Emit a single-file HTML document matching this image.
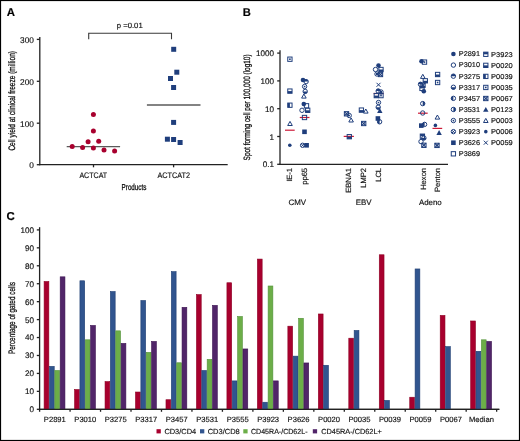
<!DOCTYPE html>
<html><head><meta charset="utf-8"><style>
html,body{margin:0;padding:0;background:#fff;}
body{width:520px;height:441px;overflow:hidden;}
svg{display:block;font-family:"Liberation Sans", sans-serif;will-change:transform;text-rendering:geometricPrecision;}
</style></head><body>
<svg width="520" height="441" viewBox="0 0 520 441">
<rect x="0" y="0" width="520" height="441" fill="#fff"/>
<text x="6.7" y="15.6" font-size="11.4" text-anchor="start" fill="#000" stroke="#000" stroke-width="0.15" font-weight="bold" >A</text>
<text x="242.7" y="15.8" font-size="11.2" text-anchor="start" fill="#000" stroke="#000" stroke-width="0.15" font-weight="bold" >B</text>
<text x="6.4" y="220.4" font-size="11.4" text-anchor="start" fill="#000" stroke="#000" stroke-width="0.15" font-weight="bold" >C</text>
<line x1="39.8" y1="36.9" x2="39.8" y2="165.2" stroke="#222" stroke-width="1.3"/>
<line x1="39.3" y1="164.7" x2="227.7" y2="164.7" stroke="#222" stroke-width="1.3"/>
<line x1="36.8" y1="39.4" x2="39.8" y2="39.4" stroke="#222" stroke-width="1.3"/>
<text x="33.9" y="42.7" font-size="8.3" text-anchor="end" fill="#111" stroke="#111" stroke-width="0.15" >300</text>
<line x1="36.8" y1="81.3" x2="39.8" y2="81.3" stroke="#222" stroke-width="1.3"/>
<text x="33.9" y="84.6" font-size="8.3" text-anchor="end" fill="#111" stroke="#111" stroke-width="0.15" >200</text>
<line x1="36.8" y1="123.2" x2="39.8" y2="123.2" stroke="#222" stroke-width="1.3"/>
<text x="33.9" y="126.5" font-size="8.3" text-anchor="end" fill="#111" stroke="#111" stroke-width="0.15" >100</text>
<line x1="36.8" y1="164.7" x2="39.8" y2="164.7" stroke="#222" stroke-width="1.3"/>
<text x="33.9" y="168.0" font-size="8.3" text-anchor="end" fill="#111" stroke="#111" stroke-width="0.15" >0</text>
<line x1="93.5" y1="164.7" x2="93.5" y2="167.3" stroke="#222" stroke-width="1.3"/>
<line x1="173.6" y1="164.7" x2="173.6" y2="167.3" stroke="#222" stroke-width="1.3"/>
<text x="93.3" y="177.7" font-size="8.0" text-anchor="middle" fill="#111" stroke="#111" stroke-width="0.15" textLength="27.8" lengthAdjust="spacingAndGlyphs" >ACTCAT</text>
<text x="173.7" y="177.7" font-size="8.0" text-anchor="middle" fill="#111" stroke="#111" stroke-width="0.15" textLength="32.6" lengthAdjust="spacingAndGlyphs" >ACTCAT2</text>
<text x="121.6" y="189.9" font-size="8.6" text-anchor="start" fill="#111" stroke="#111" stroke-width="0.3" textLength="24.8" lengthAdjust="spacingAndGlyphs" >Products</text>
<text x="14.9" y="150.6" font-size="9.4" text-anchor="start" fill="#111" stroke="#111" stroke-width="0.3" textLength="99.6" lengthAdjust="spacingAndGlyphs" transform="rotate(-90 14.9 150.6)" >Cell yield at clinical freeze (million)</text>
<path d="M88.7,39.2 V33.2 H171.5 V39.2" fill="none" stroke="#3a3a3a" stroke-width="1.1"/>
<text x="116.7" y="28.3" font-size="7.6" text-anchor="start" fill="#111" stroke="#111" stroke-width="0.15" textLength="26.0" lengthAdjust="spacingAndGlyphs" >p =0.01</text>
<line x1="66.7" y1="146.6" x2="120.1" y2="146.6" stroke="#5a5a5a" stroke-width="1.3"/>
<circle cx="93.4" cy="114.6" r="2.5" fill="#a8002e"/>
<circle cx="93.4" cy="131.0" r="2.5" fill="#a8002e"/>
<circle cx="88.1" cy="141.7" r="2.5" fill="#a8002e"/>
<circle cx="98.7" cy="141.3" r="2.5" fill="#a8002e"/>
<circle cx="72.2" cy="146.6" r="2.5" fill="#a8002e"/>
<circle cx="82.6" cy="147.6" r="2.5" fill="#a8002e"/>
<circle cx="93.4" cy="148.0" r="2.5" fill="#a8002e"/>
<circle cx="104.0" cy="150.0" r="2.5" fill="#a8002e"/>
<circle cx="114.6" cy="151.0" r="2.5" fill="#a8002e"/>
<line x1="146.9" y1="105.0" x2="200.5" y2="105.0" stroke="#5a5a5a" stroke-width="1.3"/>
<rect x="171.20" y="46.80" width="5.0" height="5.0" fill="#1f3e7c"/>
<rect x="174.30" y="69.70" width="5.0" height="5.0" fill="#1f3e7c"/>
<rect x="168.00" y="76.00" width="5.0" height="5.0" fill="#1f3e7c"/>
<rect x="171.10" y="85.00" width="5.0" height="5.0" fill="#1f3e7c"/>
<rect x="171.10" y="119.90" width="5.0" height="5.0" fill="#1f3e7c"/>
<rect x="164.90" y="136.70" width="5.0" height="5.0" fill="#1f3e7c"/>
<rect x="171.10" y="137.00" width="5.0" height="5.0" fill="#1f3e7c"/>
<rect x="177.60" y="140.00" width="5.0" height="5.0" fill="#1f3e7c"/>
<line x1="280.0" y1="50.2" x2="280.0" y2="165.0" stroke="#222" stroke-width="1.3"/>
<line x1="279.5" y1="164.3" x2="448.0" y2="164.3" stroke="#222" stroke-width="1.3"/>
<line x1="277.2" y1="53.1" x2="280.0" y2="53.1" stroke="#222" stroke-width="1.3"/>
<text x="274.0" y="56.1" font-size="8.1" text-anchor="end" fill="#111" stroke="#111" stroke-width="0.15" >1000</text>
<line x1="277.2" y1="80.9" x2="280.0" y2="80.9" stroke="#222" stroke-width="1.3"/>
<text x="274.0" y="83.9" font-size="8.1" text-anchor="end" fill="#111" stroke="#111" stroke-width="0.15" >100</text>
<line x1="277.2" y1="108.7" x2="280.0" y2="108.7" stroke="#222" stroke-width="1.3"/>
<text x="274.0" y="111.7" font-size="8.1" text-anchor="end" fill="#111" stroke="#111" stroke-width="0.15" >10</text>
<line x1="277.2" y1="136.5" x2="280.0" y2="136.5" stroke="#222" stroke-width="1.3"/>
<text x="274.0" y="139.5" font-size="8.1" text-anchor="end" fill="#111" stroke="#111" stroke-width="0.15" >1</text>
<line x1="277.2" y1="164.3" x2="280.0" y2="164.3" stroke="#222" stroke-width="1.3"/>
<text x="274.0" y="167.3" font-size="8.1" text-anchor="end" fill="#111" stroke="#111" stroke-width="0.15" >0.1</text>
<text x="250.2" y="160.4" font-size="9.2" text-anchor="start" fill="#111" stroke="#111" stroke-width="0.3" textLength="106.0" lengthAdjust="spacingAndGlyphs" transform="rotate(-90 250.2 160.4)" >Spot forming cell per 100,000 (log10)</text>
<text x="292.2" y="167.9" font-size="7.6" text-anchor="end" fill="#111" stroke="#111" stroke-width="0.15" transform="rotate(-90 292.2 167.9)" >IE-1</text>
<text x="307.1" y="167.9" font-size="7.6" text-anchor="end" fill="#111" stroke="#111" stroke-width="0.15" transform="rotate(-90 307.1 167.9)" >pp65</text>
<text x="351.0" y="167.9" font-size="7.6" text-anchor="end" fill="#111" stroke="#111" stroke-width="0.15" transform="rotate(-90 351.0 167.9)" >EBNA1</text>
<text x="366.0" y="167.9" font-size="7.6" text-anchor="end" fill="#111" stroke="#111" stroke-width="0.15" transform="rotate(-90 366.0 167.9)" >LMP2</text>
<text x="381.0" y="167.9" font-size="7.6" text-anchor="end" fill="#111" stroke="#111" stroke-width="0.15" transform="rotate(-90 381.0 167.9)" >LCL</text>
<text x="425.6" y="167.9" font-size="7.6" text-anchor="end" fill="#111" stroke="#111" stroke-width="0.15" transform="rotate(-90 425.6 167.9)" >Hexon</text>
<text x="440.3" y="167.9" font-size="7.6" text-anchor="end" fill="#111" stroke="#111" stroke-width="0.15" transform="rotate(-90 440.3 167.9)" >Penton</text>
<text x="297.35" y="204.7" font-size="7.9" text-anchor="middle" fill="#111" stroke="#111" stroke-width="0.15" >CMV</text>
<text x="363.6" y="204.7" font-size="7.9" text-anchor="middle" fill="#111" stroke="#111" stroke-width="0.15" >EBV</text>
<text x="430.3" y="204.7" font-size="7.9" text-anchor="middle" fill="#111" stroke="#111" stroke-width="0.15" >Adeno</text>
<line x1="285.0" y1="130.2" x2="294.7" y2="130.2" stroke="#cc1a38" stroke-width="1.2"/>
<line x1="299.8" y1="117.5" x2="309.5" y2="117.5" stroke="#cc1a38" stroke-width="1.2"/>
<line x1="343.7" y1="136.4" x2="353.9" y2="136.4" stroke="#cc1a38" stroke-width="1.2"/>
<line x1="373.6" y1="93.5" x2="383.6" y2="93.5" stroke="#cc1a38" stroke-width="1.2"/>
<line x1="418.0" y1="113.2" x2="427.7" y2="113.2" stroke="#cc1a38" stroke-width="1.2"/>
<line x1="432.5" y1="128.4" x2="442.2" y2="128.4" stroke="#cc1a38" stroke-width="1.2"/>
<rect x="287.75" y="57.05" width="4.30" height="4.30" fill="none" stroke="#1f3e7c" stroke-width="1.0"/><rect x="289.10" y="58.40" width="1.6" height="1.6" fill="#1f3e7c"/>
<rect x="287.75" y="88.95" width="4.30" height="4.30" fill="none" stroke="#1f3e7c" stroke-width="1.0"/><rect x="287.75" y="91.10" width="4.30" height="2.15" fill="#1f3e7c"/>
<rect x="287.75" y="103.05" width="4.30" height="4.30" fill="none" stroke="#1f3e7c" stroke-width="1.0"/><rect x="287.75" y="103.05" width="2.15" height="4.30" fill="#1f3e7c"/>
<path d="M290.0,121.39999999999999 L292.3,125.5 L287.7,125.5 Z" fill="none" stroke="#1f3e7c" stroke-width="1.0" stroke-linejoin="miter"/>
<circle cx="289.8" cy="145.2" r="1.8" fill="#1f3e7c"/>
<circle cx="303.0" cy="80.0" r="2.3" fill="#1f3e7c"/>
<circle cx="306.1" cy="81.6" r="2.2" fill="none" stroke="#1f3e7c" stroke-width="1.0"/><path d="M303.90000000000003,81.6 A2.2,2.2 0 0 1 308.3,81.6 Z" fill="#1f3e7c"/>
<circle cx="304.6" cy="86.5" r="2.2" fill="none" stroke="#1f3e7c" stroke-width="1.0"/><circle cx="304.6" cy="86.5" r="0.85" fill="#1f3e7c"/>
<circle cx="305.2" cy="91.4" r="2.2" fill="none" stroke="#1f3e7c" stroke-width="1.0"/><path d="M303.0,91.4 A2.2,2.2 0 0 0 307.4,91.4 Z" fill="#1f3e7c"/>
<path d="M303.9,94.0 L306.2,98.10000000000001 L301.59999999999997,98.10000000000001 Z" fill="none" stroke="#1f3e7c" stroke-width="1.0" stroke-linejoin="miter"/>
<circle cx="303.8" cy="104.0" r="2.3" fill="#1f3e7c"/>
<rect x="304.35" y="103.65" width="4.30" height="4.30" fill="none" stroke="#1f3e7c" stroke-width="1.0"/>
<circle cx="302.0" cy="110.3" r="2.2" fill="none" stroke="#1f3e7c" stroke-width="1.0"/>
<rect x="305.55" y="108.15" width="4.30" height="4.30" fill="none" stroke="#1f3e7c" stroke-width="1.0"/><rect x="305.55" y="110.30" width="4.30" height="2.15" fill="#1f3e7c"/>
<rect x="302.35" y="115.35" width="4.30" height="4.30" fill="none" stroke="#1f3e7c" stroke-width="1.0"/>
<rect x="302.20" y="129.50" width="4.6" height="4.6" fill="#1f3e7c"/>
<circle cx="302.6" cy="145.3" r="2.2" fill="none" stroke="#1f3e7c" stroke-width="1.0"/><path d="M301.20000000000005,143.9 L304.0,146.70000000000002 M304.0,143.9 L301.20000000000005,146.70000000000002" stroke="#1f3e7c" stroke-width="1.0"/>
<rect x="304.30" y="143.00" width="4.6" height="4.6" fill="#1f3e7c"/>
<rect x="344.35" y="111.65" width="4.30" height="4.30" fill="none" stroke="#1f3e7c" stroke-width="1.0"/><path d="M344.35,111.64999999999999 L348.65,115.95 M348.65,111.64999999999999 L344.35,115.95" stroke="#1f3e7c" stroke-width="1.1"/>
<circle cx="349.2" cy="115.5" r="2.2" fill="none" stroke="#1f3e7c" stroke-width="1.0"/><circle cx="349.2" cy="115.5" r="0.85" fill="#1f3e7c"/>
<path d="M351.1,117.89999999999999 L353.40000000000003,122.0 L348.8,122.0 Z" fill="none" stroke="#1f3e7c" stroke-width="1.0" stroke-linejoin="miter"/>
<rect x="347.15" y="134.55" width="4.30" height="4.30" fill="none" stroke="#1f3e7c" stroke-width="1.0"/><rect x="347.15" y="136.70" width="4.30" height="2.15" fill="#1f3e7c"/>
<rect x="359.25" y="107.95" width="4.30" height="4.30" fill="none" stroke="#1f3e7c" stroke-width="1.0"/><rect x="359.25" y="110.10" width="4.30" height="2.15" fill="#1f3e7c"/>
<path d="M365.8,109.0 L368.1,113.10000000000001 L363.5,113.10000000000001 Z" fill="none" stroke="#1f3e7c" stroke-width="1.0" stroke-linejoin="miter"/>
<rect x="361.55" y="121.35" width="4.30" height="4.30" fill="none" stroke="#1f3e7c" stroke-width="1.0"/><path d="M361.55,121.35 L365.84999999999997,125.65 M365.84999999999997,121.35 L361.55,125.65" stroke="#1f3e7c" stroke-width="1.1"/>
<circle cx="378.5" cy="65.5" r="2.3" fill="#1f3e7c"/>
<circle cx="375.5" cy="69.5" r="2.2" fill="none" stroke="#1f3e7c" stroke-width="1.0"/>
<rect x="378.85" y="67.35" width="4.30" height="4.30" fill="none" stroke="#1f3e7c" stroke-width="1.0"/><rect x="378.85" y="69.50" width="4.30" height="2.15" fill="#1f3e7c"/>
<circle cx="377.0" cy="74.0" r="2.2" fill="none" stroke="#1f3e7c" stroke-width="1.0"/><path d="M375.6,72.6 L378.4,75.4 M378.4,72.6 L375.6,75.4" stroke="#1f3e7c" stroke-width="1.0"/>
<rect x="378.35" y="72.35" width="4.30" height="4.30" fill="none" stroke="#1f3e7c" stroke-width="1.0"/><path d="M378.35,72.35 L382.65,76.65 M382.65,72.35 L378.35,76.65" stroke="#1f3e7c" stroke-width="1.1"/>
<path d="M376.5,82.8 L380.5,86.8 M380.5,82.8 L376.5,86.8" stroke="#1f3e7c" stroke-width="1.0"/>
<circle cx="378.2" cy="91.0" r="2.2" fill="none" stroke="#1f3e7c" stroke-width="1.0"/><path d="M376.0,91.0 A2.2,2.2 0 0 1 380.4,91.0 Z" fill="#1f3e7c"/>
<circle cx="381.0" cy="92.0" r="2.2" fill="none" stroke="#1f3e7c" stroke-width="1.0"/><path d="M379.6,90.6 L382.4,93.4 M382.4,90.6 L379.6,93.4" stroke="#1f3e7c" stroke-width="1.0"/>
<rect x="374.15" y="93.45" width="4.30" height="4.30" fill="none" stroke="#1f3e7c" stroke-width="1.0"/><rect x="374.15" y="95.60" width="4.30" height="2.15" fill="#1f3e7c"/>
<rect x="378.85" y="93.45" width="4.30" height="4.30" fill="none" stroke="#1f3e7c" stroke-width="1.0"/><rect x="380.20" y="94.80" width="1.6" height="1.6" fill="#1f3e7c"/>
<circle cx="378.5" cy="102.5" r="2.2" fill="none" stroke="#1f3e7c" stroke-width="1.0"/><circle cx="378.5" cy="102.5" r="0.85" fill="#1f3e7c"/>
<circle cx="378.2" cy="107.2" r="2.2" fill="none" stroke="#1f3e7c" stroke-width="1.0"/><path d="M376.0,107.2 A2.2,2.2 0 0 0 380.4,107.2 Z" fill="#1f3e7c"/>
<path d="M379.8,108.10000000000001 L382.5,112.9 L377.1,112.9 Z" fill="#1f3e7c"/>
<rect x="375.60" y="116.20" width="4.6" height="4.6" fill="#1f3e7c"/>
<circle cx="379.6" cy="121.8" r="2.2" fill="none" stroke="#1f3e7c" stroke-width="1.0"/><path d="M379.6,119.6 A2.2,2.2 0 0 0 379.6,124.0 Z" fill="#1f3e7c"/>
<circle cx="421.5" cy="61.3" r="2.3" fill="#1f3e7c"/>
<rect x="422.35" y="59.95" width="4.30" height="4.30" fill="none" stroke="#1f3e7c" stroke-width="1.0"/><rect x="423.70" y="61.30" width="1.6" height="1.6" fill="#1f3e7c"/>
<path d="M422.8,74.3 L425.1,78.4 L420.5,78.4 Z" fill="none" stroke="#1f3e7c" stroke-width="1.0" stroke-linejoin="miter"/>
<rect x="423.15" y="78.65" width="4.30" height="4.30" fill="none" stroke="#1f3e7c" stroke-width="1.0"/><rect x="423.15" y="80.80" width="4.30" height="2.15" fill="#1f3e7c"/>
<circle cx="420.5" cy="84.3" r="2.2" fill="none" stroke="#1f3e7c" stroke-width="1.0"/><path d="M418.3,84.3 A2.2,2.2 0 0 1 422.7,84.3 Z" fill="#1f3e7c"/>
<rect x="420.85" y="83.05" width="4.30" height="4.30" fill="none" stroke="#1f3e7c" stroke-width="1.0"/><path d="M420.85,83.05 L425.15,87.35000000000001 M425.15,83.05 L420.85,87.35000000000001" stroke="#1f3e7c" stroke-width="1.1"/>
<rect x="419.85" y="86.25" width="4.30" height="4.30" fill="none" stroke="#1f3e7c" stroke-width="1.0"/><rect x="419.85" y="86.25" width="4.30" height="2.15" fill="#1f3e7c"/>
<circle cx="423.8" cy="91.3" r="2.3" fill="#1f3e7c"/>
<circle cx="422.7" cy="103.6" r="2.2" fill="none" stroke="#1f3e7c" stroke-width="1.0"/><path d="M422.7,101.39999999999999 A2.2,2.2 0 0 1 422.7,105.8 Z" fill="#1f3e7c"/>
<circle cx="422.7" cy="113.0" r="2.2" fill="none" stroke="#1f3e7c" stroke-width="1.0"/>
<rect x="419.00" y="123.30" width="4.6" height="4.6" fill="#1f3e7c"/>
<circle cx="424.6" cy="124.4" r="2.2" fill="none" stroke="#1f3e7c" stroke-width="1.0"/><path d="M424.6,122.2 A2.2,2.2 0 0 0 424.6,126.60000000000001 Z" fill="#1f3e7c"/>
<rect x="420.25" y="134.05" width="4.30" height="4.30" fill="none" stroke="#1f3e7c" stroke-width="1.0"/><rect x="420.25" y="134.05" width="4.30" height="2.15" fill="#1f3e7c"/>
<circle cx="423.9" cy="138.0" r="2.2" fill="none" stroke="#1f3e7c" stroke-width="1.0"/><path d="M421.7,138.0 A2.2,2.2 0 0 0 426.09999999999997,138.0 Z" fill="#1f3e7c"/>
<circle cx="421.0" cy="141.6" r="2.2" fill="none" stroke="#1f3e7c" stroke-width="1.0"/>
<rect x="421.75" y="143.15" width="4.30" height="4.30" fill="none" stroke="#1f3e7c" stroke-width="1.0"/><path d="M421.75,143.15 L426.04999999999995,147.45000000000002 M426.04999999999995,143.15 L421.75,147.45000000000002" stroke="#1f3e7c" stroke-width="1.1"/>
<rect x="435.45" y="72.35" width="4.30" height="4.30" fill="none" stroke="#1f3e7c" stroke-width="1.0"/><rect x="435.45" y="74.50" width="4.30" height="2.15" fill="#1f3e7c"/>
<rect x="435.45" y="80.35" width="4.30" height="4.30" fill="none" stroke="#1f3e7c" stroke-width="1.0"/><rect x="436.80" y="81.70" width="1.6" height="1.6" fill="#1f3e7c"/>
<path d="M437.4,115.0 L439.7,119.10000000000001 L435.09999999999997,119.10000000000001 Z" fill="none" stroke="#1f3e7c" stroke-width="1.0" stroke-linejoin="miter"/>
<circle cx="435.4" cy="125.4" r="1.8" fill="#1f3e7c"/>
<path d="M439.1,130.1 L441.8,134.89999999999998 L436.40000000000003,134.89999999999998 Z" fill="#1f3e7c"/>
<rect x="434.85" y="143.25" width="4.30" height="4.30" fill="none" stroke="#1f3e7c" stroke-width="1.0"/><path d="M434.85,143.25 L439.15,147.55 M439.15,143.25 L434.85,147.55" stroke="#1f3e7c" stroke-width="1.1"/>
<circle cx="453.4" cy="54.0" r="2.3" fill="#1f3e7c"/>
<text x="458.8" y="56.4" font-size="7.0" text-anchor="start" fill="#111" stroke="#111" stroke-width="0.15" textLength="21.2" lengthAdjust="spacingAndGlyphs" >P2891</text>
<circle cx="453.4" cy="65.09" r="2.2" fill="none" stroke="#1f3e7c" stroke-width="1.0"/>
<text x="458.8" y="67.49" font-size="7.0" text-anchor="start" fill="#111" stroke="#111" stroke-width="0.15" textLength="21.2" lengthAdjust="spacingAndGlyphs" >P3010</text>
<circle cx="453.4" cy="76.18" r="2.2" fill="none" stroke="#1f3e7c" stroke-width="1.0"/><path d="M451.2,76.18 A2.2,2.2 0 0 1 455.59999999999997,76.18 Z" fill="#1f3e7c"/>
<text x="458.8" y="78.58" font-size="7.0" text-anchor="start" fill="#111" stroke="#111" stroke-width="0.15" textLength="21.2" lengthAdjust="spacingAndGlyphs" >P3275</text>
<circle cx="453.4" cy="87.27" r="2.2" fill="none" stroke="#1f3e7c" stroke-width="1.0"/><path d="M451.2,87.27 A2.2,2.2 0 0 0 455.59999999999997,87.27 Z" fill="#1f3e7c"/>
<text x="458.8" y="89.67" font-size="7.0" text-anchor="start" fill="#111" stroke="#111" stroke-width="0.15" textLength="21.2" lengthAdjust="spacingAndGlyphs" >P3317</text>
<circle cx="453.4" cy="98.36" r="2.2" fill="none" stroke="#1f3e7c" stroke-width="1.0"/><path d="M453.4,96.16 A2.2,2.2 0 0 0 453.4,100.56 Z" fill="#1f3e7c"/>
<text x="458.8" y="100.76" font-size="7.0" text-anchor="start" fill="#111" stroke="#111" stroke-width="0.15" textLength="21.2" lengthAdjust="spacingAndGlyphs" >P3457</text>
<circle cx="453.4" cy="109.45" r="2.2" fill="none" stroke="#1f3e7c" stroke-width="1.0"/><path d="M453.4,107.25 A2.2,2.2 0 0 1 453.4,111.65 Z" fill="#1f3e7c"/>
<text x="458.8" y="111.85" font-size="7.0" text-anchor="start" fill="#111" stroke="#111" stroke-width="0.15" textLength="21.2" lengthAdjust="spacingAndGlyphs" >P3531</text>
<circle cx="453.4" cy="120.53999999999999" r="2.2" fill="none" stroke="#1f3e7c" stroke-width="1.0"/><circle cx="453.4" cy="120.53999999999999" r="0.85" fill="#1f3e7c"/>
<text x="458.8" y="122.94" font-size="7.0" text-anchor="start" fill="#111" stroke="#111" stroke-width="0.15" textLength="21.2" lengthAdjust="spacingAndGlyphs" >P3555</text>
<circle cx="453.4" cy="131.63" r="2.2" fill="none" stroke="#1f3e7c" stroke-width="1.0"/><path d="M452.0,130.23 L454.79999999999995,133.03 M454.79999999999995,130.23 L452.0,133.03" stroke="#1f3e7c" stroke-width="1.0"/>
<text x="458.8" y="134.03" font-size="7.0" text-anchor="start" fill="#111" stroke="#111" stroke-width="0.15" textLength="21.2" lengthAdjust="spacingAndGlyphs" >P3923</text>
<rect x="451.10" y="140.42" width="4.6" height="4.6" fill="#1f3e7c"/>
<text x="458.8" y="145.12" font-size="7.0" text-anchor="start" fill="#111" stroke="#111" stroke-width="0.15" textLength="21.2" lengthAdjust="spacingAndGlyphs" >P3626</text>
<rect x="451.25" y="151.66" width="4.30" height="4.30" fill="none" stroke="#1f3e7c" stroke-width="1.0"/>
<text x="458.8" y="156.21" font-size="7.0" text-anchor="start" fill="#111" stroke="#111" stroke-width="0.15" textLength="21.2" lengthAdjust="spacingAndGlyphs" >P3869</text>
<rect x="483.65" y="52.15" width="4.30" height="4.30" fill="none" stroke="#1f3e7c" stroke-width="1.0"/><rect x="483.65" y="52.15" width="4.30" height="2.15" fill="#1f3e7c"/>
<text x="491.1" y="56.6" font-size="7.0" text-anchor="start" fill="#111" stroke="#111" stroke-width="0.15" textLength="21.6" lengthAdjust="spacingAndGlyphs" >P3923</text>
<rect x="483.65" y="63.20" width="4.30" height="4.30" fill="none" stroke="#1f3e7c" stroke-width="1.0"/><rect x="483.65" y="65.35" width="4.30" height="2.15" fill="#1f3e7c"/>
<text x="491.1" y="67.65" font-size="7.0" text-anchor="start" fill="#111" stroke="#111" stroke-width="0.15" textLength="21.6" lengthAdjust="spacingAndGlyphs" >P0020</text>
<rect x="483.65" y="74.25" width="4.30" height="4.30" fill="none" stroke="#1f3e7c" stroke-width="1.0"/><rect x="483.65" y="74.25" width="2.15" height="4.30" fill="#1f3e7c"/>
<text x="491.1" y="78.7" font-size="7.0" text-anchor="start" fill="#111" stroke="#111" stroke-width="0.15" textLength="21.6" lengthAdjust="spacingAndGlyphs" >P0039</text>
<rect x="483.65" y="85.30" width="4.30" height="4.30" fill="none" stroke="#1f3e7c" stroke-width="1.0"/><rect x="485.00" y="86.65" width="1.6" height="1.6" fill="#1f3e7c"/>
<text x="491.1" y="89.75" font-size="7.0" text-anchor="start" fill="#111" stroke="#111" stroke-width="0.15" textLength="21.6" lengthAdjust="spacingAndGlyphs" >P0035</text>
<rect x="483.65" y="96.35" width="4.30" height="4.30" fill="none" stroke="#1f3e7c" stroke-width="1.0"/><path d="M483.65000000000003,96.35 L487.95,100.65 M487.95,96.35 L483.65000000000003,100.65" stroke="#1f3e7c" stroke-width="1.1"/>
<text x="491.1" y="100.8" font-size="7.0" text-anchor="start" fill="#111" stroke="#111" stroke-width="0.15" textLength="21.6" lengthAdjust="spacingAndGlyphs" >P0067</text>
<path d="M485.8,106.95 L488.5,111.75 L483.1,111.75 Z" fill="#1f3e7c"/>
<text x="491.1" y="111.85" font-size="7.0" text-anchor="start" fill="#111" stroke="#111" stroke-width="0.15" textLength="21.6" lengthAdjust="spacingAndGlyphs" >P0123</text>
<path d="M485.8,118.4 L488.1,122.50000000000001 L483.5,122.50000000000001 Z" fill="none" stroke="#1f3e7c" stroke-width="1.0" stroke-linejoin="miter"/>
<text x="491.1" y="122.9" font-size="7.0" text-anchor="start" fill="#111" stroke="#111" stroke-width="0.15" textLength="21.6" lengthAdjust="spacingAndGlyphs" >P0003</text>
<circle cx="485.8" cy="131.65" r="1.8" fill="#1f3e7c"/>
<text x="491.1" y="133.95" font-size="7.0" text-anchor="start" fill="#111" stroke="#111" stroke-width="0.15" textLength="21.6" lengthAdjust="spacingAndGlyphs" >P0006</text>
<path d="M483.8,140.7 L487.8,144.7 M487.8,140.7 L483.8,144.7" stroke="#1f3e7c" stroke-width="1.0"/>
<text x="491.1" y="145.0" font-size="7.0" text-anchor="start" fill="#111" stroke="#111" stroke-width="0.15" textLength="21.6" lengthAdjust="spacingAndGlyphs" >P0059</text>
<line x1="39.6" y1="227.2" x2="39.6" y2="409.8" stroke="#222" stroke-width="1.3"/>
<line x1="39.1" y1="409.3" x2="499.3" y2="409.3" stroke="#222" stroke-width="1.3"/>
<line x1="36.8" y1="409.3" x2="39.6" y2="409.3" stroke="#222" stroke-width="1.3"/>
<text x="34.0" y="412.2" font-size="8.1" text-anchor="end" fill="#111" stroke="#111" stroke-width="0.15" >0</text>
<line x1="36.8" y1="391.36" x2="39.6" y2="391.36" stroke="#222" stroke-width="1.3"/>
<text x="34.0" y="394.26" font-size="8.1" text-anchor="end" fill="#111" stroke="#111" stroke-width="0.15" >10</text>
<line x1="36.8" y1="373.42" x2="39.6" y2="373.42" stroke="#222" stroke-width="1.3"/>
<text x="34.0" y="376.32" font-size="8.1" text-anchor="end" fill="#111" stroke="#111" stroke-width="0.15" >20</text>
<line x1="36.8" y1="355.48" x2="39.6" y2="355.48" stroke="#222" stroke-width="1.3"/>
<text x="34.0" y="358.38" font-size="8.1" text-anchor="end" fill="#111" stroke="#111" stroke-width="0.15" >30</text>
<line x1="36.8" y1="337.54" x2="39.6" y2="337.54" stroke="#222" stroke-width="1.3"/>
<text x="34.0" y="340.44" font-size="8.1" text-anchor="end" fill="#111" stroke="#111" stroke-width="0.15" >40</text>
<line x1="36.8" y1="319.6" x2="39.6" y2="319.6" stroke="#222" stroke-width="1.3"/>
<text x="34.0" y="322.5" font-size="8.1" text-anchor="end" fill="#111" stroke="#111" stroke-width="0.15" >50</text>
<line x1="36.8" y1="301.66" x2="39.6" y2="301.66" stroke="#222" stroke-width="1.3"/>
<text x="34.0" y="304.56" font-size="8.1" text-anchor="end" fill="#111" stroke="#111" stroke-width="0.15" >60</text>
<line x1="36.8" y1="283.72" x2="39.6" y2="283.72" stroke="#222" stroke-width="1.3"/>
<text x="34.0" y="286.62" font-size="8.1" text-anchor="end" fill="#111" stroke="#111" stroke-width="0.15" >70</text>
<line x1="36.8" y1="265.78" x2="39.6" y2="265.78" stroke="#222" stroke-width="1.3"/>
<text x="34.0" y="268.68" font-size="8.1" text-anchor="end" fill="#111" stroke="#111" stroke-width="0.15" >80</text>
<line x1="36.8" y1="247.84" x2="39.6" y2="247.84" stroke="#222" stroke-width="1.3"/>
<text x="34.0" y="250.74" font-size="8.1" text-anchor="end" fill="#111" stroke="#111" stroke-width="0.15" >90</text>
<line x1="36.8" y1="229.9" x2="39.6" y2="229.9" stroke="#222" stroke-width="1.3"/>
<text x="34.0" y="232.8" font-size="8.1" text-anchor="end" fill="#111" stroke="#111" stroke-width="0.15" >100</text>
<text x="14.8" y="354.0" font-size="9.4" text-anchor="start" fill="#111" stroke="#111" stroke-width="0.3" textLength="72.0" lengthAdjust="spacingAndGlyphs" transform="rotate(-90 14.8 354.0)" >Percentage of gated cells</text>
<rect x="44.10" y="281.51" width="4.76" height="127.79" fill="#a8002e" stroke="#8e0024" stroke-width="0.6"/>
<rect x="49.46" y="366.36" width="4.76" height="42.94" fill="#31558f" stroke="#1f3e72" stroke-width="0.6"/>
<rect x="54.82" y="370.49" width="4.76" height="38.81" fill="#6cae48" stroke="#53923a" stroke-width="0.6"/>
<rect x="60.18" y="276.84" width="4.76" height="132.46" fill="#512569" stroke="#3c1351" stroke-width="0.6"/>
<text x="54.84" y="422.1" font-size="7.6" text-anchor="middle" fill="#111" stroke="#111" stroke-width="0.15" >P2891</text>
<rect x="74.57" y="389.51" width="4.76" height="19.79" fill="#a8002e" stroke="#8e0024" stroke-width="0.6"/>
<rect x="79.93" y="280.79" width="4.76" height="128.51" fill="#31558f" stroke="#1f3e72" stroke-width="0.6"/>
<rect x="85.29" y="339.81" width="4.76" height="69.49" fill="#6cae48" stroke="#53923a" stroke-width="0.6"/>
<rect x="90.65" y="325.46" width="4.76" height="83.84" fill="#512569" stroke="#3c1351" stroke-width="0.6"/>
<text x="85.3" y="422.1" font-size="7.6" text-anchor="middle" fill="#111" stroke="#111" stroke-width="0.15" >P3010</text>
<rect x="105.04" y="381.61" width="4.76" height="27.69" fill="#a8002e" stroke="#8e0024" stroke-width="0.6"/>
<rect x="110.40" y="291.55" width="4.76" height="117.75" fill="#31558f" stroke="#1f3e72" stroke-width="0.6"/>
<rect x="115.76" y="330.84" width="4.76" height="78.46" fill="#6cae48" stroke="#53923a" stroke-width="0.6"/>
<rect x="121.12" y="343.40" width="4.76" height="65.90" fill="#512569" stroke="#3c1351" stroke-width="0.6"/>
<text x="115.77" y="422.1" font-size="7.6" text-anchor="middle" fill="#111" stroke="#111" stroke-width="0.15" >P3275</text>
<rect x="135.51" y="392.02" width="4.76" height="17.28" fill="#a8002e" stroke="#8e0024" stroke-width="0.6"/>
<rect x="140.87" y="300.52" width="4.76" height="108.78" fill="#31558f" stroke="#1f3e72" stroke-width="0.6"/>
<rect x="146.23" y="352.37" width="4.76" height="56.93" fill="#6cae48" stroke="#53923a" stroke-width="0.6"/>
<rect x="151.59" y="341.43" width="4.76" height="67.87" fill="#512569" stroke="#3c1351" stroke-width="0.6"/>
<text x="146.25" y="422.1" font-size="7.6" text-anchor="middle" fill="#111" stroke="#111" stroke-width="0.15" >P3317</text>
<rect x="165.98" y="399.73" width="4.76" height="9.57" fill="#a8002e" stroke="#8e0024" stroke-width="0.6"/>
<rect x="171.34" y="271.64" width="4.76" height="137.66" fill="#31558f" stroke="#1f3e72" stroke-width="0.6"/>
<rect x="176.70" y="362.78" width="4.76" height="46.52" fill="#6cae48" stroke="#53923a" stroke-width="0.6"/>
<rect x="182.06" y="307.34" width="4.76" height="101.96" fill="#512569" stroke="#3c1351" stroke-width="0.6"/>
<text x="176.71" y="422.1" font-size="7.6" text-anchor="middle" fill="#111" stroke="#111" stroke-width="0.15" >P3457</text>
<rect x="196.45" y="294.60" width="4.76" height="114.70" fill="#a8002e" stroke="#8e0024" stroke-width="0.6"/>
<rect x="201.81" y="370.49" width="4.76" height="38.81" fill="#31558f" stroke="#1f3e72" stroke-width="0.6"/>
<rect x="207.17" y="359.37" width="4.76" height="49.93" fill="#6cae48" stroke="#53923a" stroke-width="0.6"/>
<rect x="212.53" y="305.37" width="4.76" height="103.93" fill="#512569" stroke="#3c1351" stroke-width="0.6"/>
<text x="207.19" y="422.1" font-size="7.6" text-anchor="middle" fill="#111" stroke="#111" stroke-width="0.15" >P3531</text>
<rect x="226.92" y="282.76" width="4.76" height="126.54" fill="#a8002e" stroke="#8e0024" stroke-width="0.6"/>
<rect x="232.28" y="380.90" width="4.76" height="28.40" fill="#31558f" stroke="#1f3e72" stroke-width="0.6"/>
<rect x="237.64" y="316.49" width="4.76" height="92.81" fill="#6cae48" stroke="#53923a" stroke-width="0.6"/>
<rect x="243.00" y="348.96" width="4.76" height="60.34" fill="#512569" stroke="#3c1351" stroke-width="0.6"/>
<text x="237.65" y="422.1" font-size="7.6" text-anchor="middle" fill="#111" stroke="#111" stroke-width="0.15" >P3555</text>
<rect x="257.39" y="259.08" width="4.76" height="150.22" fill="#a8002e" stroke="#8e0024" stroke-width="0.6"/>
<rect x="262.75" y="402.24" width="4.76" height="7.06" fill="#31558f" stroke="#1f3e72" stroke-width="0.6"/>
<rect x="268.11" y="285.99" width="4.76" height="123.31" fill="#6cae48" stroke="#53923a" stroke-width="0.6"/>
<rect x="273.47" y="380.90" width="4.76" height="28.40" fill="#512569" stroke="#3c1351" stroke-width="0.6"/>
<text x="268.12" y="422.1" font-size="7.6" text-anchor="middle" fill="#111" stroke="#111" stroke-width="0.15" >P3923</text>
<rect x="287.86" y="326.18" width="4.76" height="83.12" fill="#a8002e" stroke="#8e0024" stroke-width="0.6"/>
<rect x="293.22" y="356.14" width="4.76" height="53.16" fill="#31558f" stroke="#1f3e72" stroke-width="0.6"/>
<rect x="298.58" y="318.29" width="4.76" height="91.01" fill="#6cae48" stroke="#53923a" stroke-width="0.6"/>
<rect x="303.94" y="362.96" width="4.76" height="46.34" fill="#512569" stroke="#3c1351" stroke-width="0.6"/>
<text x="298.6" y="422.1" font-size="7.6" text-anchor="middle" fill="#111" stroke="#111" stroke-width="0.15" >P3626</text>
<rect x="318.33" y="313.98" width="4.76" height="95.32" fill="#a8002e" stroke="#8e0024" stroke-width="0.6"/>
<rect x="323.69" y="365.29" width="4.76" height="44.01" fill="#31558f" stroke="#1f3e72" stroke-width="0.6"/>
<text x="329.07" y="422.1" font-size="7.6" text-anchor="middle" fill="#111" stroke="#111" stroke-width="0.15" >P0020</text>
<rect x="348.80" y="338.20" width="4.76" height="71.10" fill="#a8002e" stroke="#8e0024" stroke-width="0.6"/>
<rect x="354.16" y="330.48" width="4.76" height="78.82" fill="#31558f" stroke="#1f3e72" stroke-width="0.6"/>
<text x="359.54" y="422.1" font-size="7.6" text-anchor="middle" fill="#111" stroke="#111" stroke-width="0.15" >P0035</text>
<rect x="379.27" y="254.78" width="4.76" height="154.52" fill="#a8002e" stroke="#8e0024" stroke-width="0.6"/>
<rect x="384.63" y="400.45" width="4.76" height="8.85" fill="#31558f" stroke="#1f3e72" stroke-width="0.6"/>
<text x="390.0" y="422.1" font-size="7.6" text-anchor="middle" fill="#111" stroke="#111" stroke-width="0.15" >P0039</text>
<rect x="409.74" y="397.22" width="4.76" height="12.08" fill="#a8002e" stroke="#8e0024" stroke-width="0.6"/>
<rect x="415.10" y="268.95" width="4.76" height="140.35" fill="#31558f" stroke="#1f3e72" stroke-width="0.6"/>
<text x="420.48" y="422.1" font-size="7.6" text-anchor="middle" fill="#111" stroke="#111" stroke-width="0.15" >P0059</text>
<rect x="440.21" y="315.42" width="4.76" height="93.89" fill="#a8002e" stroke="#8e0024" stroke-width="0.6"/>
<rect x="445.57" y="346.63" width="4.76" height="62.67" fill="#31558f" stroke="#1f3e72" stroke-width="0.6"/>
<text x="450.95" y="422.1" font-size="7.6" text-anchor="middle" fill="#111" stroke="#111" stroke-width="0.15" >P0067</text>
<rect x="470.68" y="320.98" width="4.76" height="88.32" fill="#a8002e" stroke="#8e0024" stroke-width="0.6"/>
<rect x="476.04" y="351.30" width="4.76" height="58.01" fill="#31558f" stroke="#1f3e72" stroke-width="0.6"/>
<rect x="481.40" y="339.81" width="4.76" height="69.49" fill="#6cae48" stroke="#53923a" stroke-width="0.6"/>
<rect x="486.76" y="341.43" width="4.76" height="67.87" fill="#512569" stroke="#3c1351" stroke-width="0.6"/>
<text x="481.42" y="422.1" font-size="7.6" text-anchor="middle" fill="#111" stroke="#111" stroke-width="0.15" >Median</text>
<line x1="39.1" y1="409.3" x2="499.3" y2="409.3" stroke="#222" stroke-width="1.3"/>
<line x1="39.6" y1="409.3" x2="39.6" y2="411.8" stroke="#222" stroke-width="1.3"/>
<line x1="70.07" y1="409.3" x2="70.07" y2="411.8" stroke="#222" stroke-width="1.3"/>
<line x1="100.54" y1="409.3" x2="100.54" y2="411.8" stroke="#222" stroke-width="1.3"/>
<line x1="131.01" y1="409.3" x2="131.01" y2="411.8" stroke="#222" stroke-width="1.3"/>
<line x1="161.48" y1="409.3" x2="161.48" y2="411.8" stroke="#222" stroke-width="1.3"/>
<line x1="191.95" y1="409.3" x2="191.95" y2="411.8" stroke="#222" stroke-width="1.3"/>
<line x1="222.42" y1="409.3" x2="222.42" y2="411.8" stroke="#222" stroke-width="1.3"/>
<line x1="252.89" y1="409.3" x2="252.89" y2="411.8" stroke="#222" stroke-width="1.3"/>
<line x1="283.36" y1="409.3" x2="283.36" y2="411.8" stroke="#222" stroke-width="1.3"/>
<line x1="313.83" y1="409.3" x2="313.83" y2="411.8" stroke="#222" stroke-width="1.3"/>
<line x1="344.3" y1="409.3" x2="344.3" y2="411.8" stroke="#222" stroke-width="1.3"/>
<line x1="374.77" y1="409.3" x2="374.77" y2="411.8" stroke="#222" stroke-width="1.3"/>
<line x1="405.24" y1="409.3" x2="405.24" y2="411.8" stroke="#222" stroke-width="1.3"/>
<line x1="435.71" y1="409.3" x2="435.71" y2="411.8" stroke="#222" stroke-width="1.3"/>
<line x1="466.18" y1="409.3" x2="466.18" y2="411.8" stroke="#222" stroke-width="1.3"/>
<line x1="496.65" y1="409.3" x2="496.65" y2="411.8" stroke="#222" stroke-width="1.3"/>
<rect x="156.5" y="429.2" width="4.3" height="4.2" fill="#a8002e"/>
<text x="164.4" y="433.6" font-size="7.4" text-anchor="start" fill="#111" stroke="#111" stroke-width="0.15" textLength="31.8" lengthAdjust="spacingAndGlyphs" >CD3/CD4</text>
<rect x="200.0" y="429.2" width="4.3" height="4.2" fill="#31558f"/>
<text x="207.7" y="433.6" font-size="7.4" text-anchor="start" fill="#111" stroke="#111" stroke-width="0.15" textLength="32.0" lengthAdjust="spacingAndGlyphs" >CD3/CD8</text>
<rect x="243.3" y="429.2" width="4.3" height="4.2" fill="#6cae48"/>
<text x="251.0" y="433.6" font-size="7.4" text-anchor="start" fill="#111" stroke="#111" stroke-width="0.15" textLength="56.5" lengthAdjust="spacingAndGlyphs" >CD45RA-/CD62L-</text>
<rect x="312.8" y="429.2" width="4.3" height="4.2" fill="#512569"/>
<text x="321.2" y="433.6" font-size="7.4" text-anchor="start" fill="#111" stroke="#111" stroke-width="0.15" textLength="60.6" lengthAdjust="spacingAndGlyphs" >CD45RA-/CD62L+</text>
<rect x="0.5" y="0.5" width="519" height="440" fill="none" stroke="#000" stroke-width="1.2"/>
</svg>
</body></html>
